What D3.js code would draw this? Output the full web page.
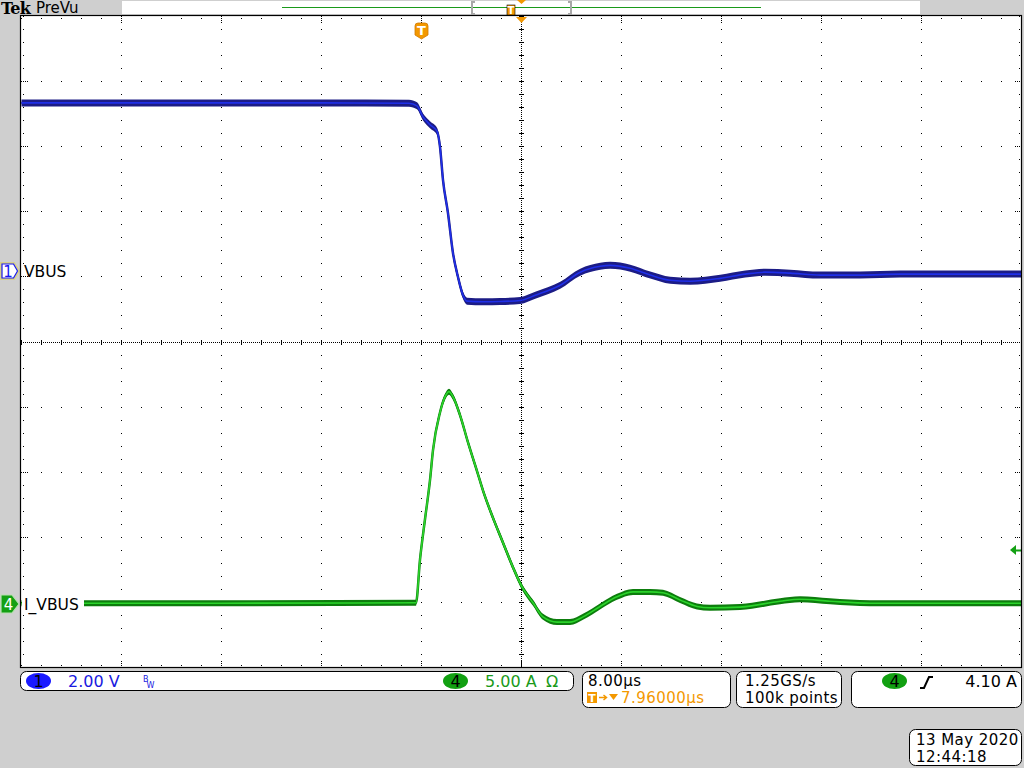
<!DOCTYPE html>
<html><head><meta charset="utf-8">
<script src="https://cdn.jsdelivr.net/npm/d3@7"></script>
<style>
html,body{margin:0;padding:0;background:#cfcfcf;}
svg{display:block;font-family:"DejaVu Sans",sans-serif;}
</style></head>
<body>
<svg id="c" width="1024" height="768"></svg>
<script>
// ---- data ----
// CH1 VBUS, time in µs relative to trigger, value in V
const timeV = [-32, -24, -16, -8, -1.0, -0.36, 0.12, 0.68, 1.24, 1.48, 1.72, 2.12, 2.52, 2.92, 3.32, 3.64, 5.0, 6.3, 7.9, 9.1, 11.1, 12.7, 14.3, 15.1, 16.7, 18.3, 19.9, 21.5, 23.9, 25.9, 27.5, 29.5, 31.9, 35.1, 38.3, 42, 47.96];
const vbus  = [5.17, 5.17, 5.17, 5.17, 5.16, 5.08, 4.74, 4.50, 4.30, 3.82, 2.80, 1.78, 0.55, -0.18, -0.74, -0.92, -0.94, -0.93, -0.90, -0.74, -0.43, -0.03, 0.15, 0.18, 0.09, -0.12, -0.28, -0.31, -0.22, -0.09, -0.03, -0.06, -0.12, -0.12, -0.09, -0.09, -0.09];
// CH4 I_VBUS, time in µs, value in A
const timeI = [-32, -16, -0.44, -0.12, 0.28, 0.68, 0.92, 1.48, 1.88, 2.2, 2.52, 3.08, 3.72, 4.44, 4.92, 5.72, 6.52, 7.32, 8.04, 8.92, 9.72, 10.84, 11.88, 12.92, 14.28, 15.64, 16.92, 18.28, 19.32, 20.68, 22.04, 23.08, 25.48, 28.68, 30.28, 32.68, 35.88, 47.96];
const ivbus = [0.05, 0.05, 0.08, 3.4, 6.5, 9.5, 11.8, 14.7, 15.9, 16.3, 15.9, 14.5, 12.4, 10.2, 8.7, 6.6, 4.7, 2.8, 1.3, 0.08, -1.0, -1.4, -1.4, -1.0, -0.2, 0.54, 0.92, 0.92, 0.85, 0.3, -0.2, -0.3, -0.25, 0.2, 0.35, 0.2, 0.05, 0.05];
// settings / readouts
const ch1Scale = 2.00, ch1Pos = 1.08;     // V/div, marker position (div)
const ch4Scale = 5.00, ch4Pos = -4.03;    // A/div
const timePerDiv = 8.00, trigDelay = 7.96; // µs
const trigLevel = 4.10;                   // A
const ch1Text = ["1", "2.00 V"];
const ch4Text = ["4", "5.00 A", "Ω"];
const horizText = ["8.00µs", "7.96000µs"];
const acqText = ["1.25GS/s", "100k points"];
const trigText = ["4", "4.10 A"];
const dateText = ["13 May 2020", "12:44:18"];
const traceLabels = ["VBUS", "I_VBUS"];

// ---- geometry ----
const L = 21, R = 1021, T = 16, B = 667;
const svg = d3.select("#c");
const x = d3.scaleLinear().domain([trigDelay - 5 * timePerDiv, trigDelay + 5 * timePerDiv]).range([L, R]);
const yDiv = d3.scaleLinear().domain([-5, 5]).range([B, T]);
const yV = d3.scaleLinear().domain([-(5 + ch1Pos) * ch1Scale, (5 - ch1Pos) * ch1Scale]).range([B, T]);
const yI = d3.scaleLinear().domain([-(5 + ch4Pos) * ch4Scale, (5 - ch4Pos) * ch4Scale]).range([B, T]);
const orange = "#f39800";

// background
svg.append("rect").attr("width", 1024).attr("height", 768).attr("fill", "#cfcfcf");
svg.append("rect").attr("x", L).attr("y", T).attr("width", R - L).attr("height", B - T).attr("fill", "#fff");

// ---- graticule ----
const g = svg.append("g").attr("fill", "#000").attr("shape-rendering", "crispEdges");
const xsMajor = d3.range(-4, 5).filter(d => d !== 0).map(d => Math.round(L + (d + 5) * 100));
const ysMajor = d3.range(-4, 5).filter(d => d !== 0).map(d => Math.round(yDiv(d)));
const xsMinor = d3.range(0, 51).map(i => Math.round(L + i * 20));
const ysMinor = d3.range(0, 51).map(i => Math.round(T + i * (B - T) / 50));
const cx = Math.round(L + 500), cy = Math.round(yDiv(0));
const dots = [];
xsMajor.forEach(xx => ysMinor.forEach(yy => dots.push([xx, yy])));
ysMajor.forEach(yy => xsMinor.forEach(xx => dots.push([xx, yy])));
for (let yy = T; yy <= B; yy += 2) dots.push([cx, yy]);
for (let xx = L; xx <= R; xx += 2) dots.push([xx, cy]);
ysMinor.forEach(yy => { for (let k = -2; k <= 2; k++) dots.push([cx + k, yy]); });
xsMinor.forEach(xx => { for (let k = -2; k <= 2; k++) dots.push([xx, cy + k]); });
xsMinor.forEach(xx => { dots.push([xx, T + 2]); dots.push([xx, B - 2]); });
[...xsMajor, cx].forEach(xx => { [4, 6].forEach(k => { dots.push([xx, T + k]); dots.push([xx, B - k]); }); });
ysMinor.forEach(yy => { dots.push([L + 2, yy]); dots.push([R - 2, yy]); });
[...ysMajor, cy].forEach(yy => { [4, 6].forEach(k => { dots.push([L + k, yy]); dots.push([R - k, yy]); }); });
g.selectAll("rect.d").data(dots).join("rect").attr("class", "d")
  .attr("x", d => d[0]).attr("y", d => d[1]).attr("width", 1).attr("height", 1);

// ---- traces ----
function trace(ts, vs, ys, band, dark, bright) {
  const pts = ts.map((t, i) => [x(t), ys(vs[i])]);
  const area = d3.area().x(d => d[0]).y0(d => d[1] + band).y1(d => d[1] - band).curve(d3.curveMonotoneX);
  const line = d3.line().x(d => d[0]).y(d => d[1]).curve(d3.curveMonotoneX);
  svg.append("path").attr("d", area(pts)).attr("fill", dark);
  svg.append("path").attr("d", line(pts)).attr("fill", "none").attr("stroke", dark).attr("stroke-width", 2.5);
  svg.append("path").attr("d", line(pts)).attr("fill", "none").attr("stroke", bright).attr("stroke-width", 1.6);
}
trace(timeV, vbus, yV, 3.5, "#1c1c86", "#1f2fe8");
trace(timeI, ivbus, yI, 3, "#0d7d0d", "#2bd42b");

// ---- trace labels ----
const y1m = Math.round(yV(0)), y4m = Math.round(yI(0));
svg.append("text").attr("x", 24).attr("y", y1m + 6).attr("font-size", 15.5).attr("fill", "#000").text(traceLabels[0]);
svg.append("rect").attr("x", 22).attr("y", y4m - 9).attr("width", 62).attr("height", 17).attr("fill", "#fff");
svg.append("text").attr("x", 24).attr("y", y4m + 6).attr("font-size", 15.5).attr("fill", "#000").text(traceLabels[1]);

// ch1 marker
svg.append("path").attr("d", `M1,${y1m - 8} H14 L19,${y1m} L14,${y1m + 8} H1 Z`).attr("fill", "#fff").attr("stroke", "#d7cf8a").attr("stroke-width", 2);
svg.append("path").attr("d", `M2,${y1m - 7} H13.5 L17.5,${y1m} L13.5,${y1m + 7} H2 Z`).attr("fill", "#fff").attr("stroke", "#1a1aee").attr("stroke-width", 1.2);
svg.append("text").attr("x", 8).attr("y", y1m + 6).attr("text-anchor", "middle").attr("font-size", 15).attr("fill", "#1a1aee").text("1");
// ch4 marker
svg.append("path").attr("d", `M1,${y4m - 9} H12 L19,${y4m} L12,${y4m + 9} H1 Z`).attr("fill", "#14a014").attr("stroke", "#b8e0b0").attr("stroke-width", 1.2);
svg.append("text").attr("x", 8.5).attr("y", y4m + 6).attr("text-anchor", "middle").attr("font-size", 15).attr("fill", "#fff").text("4");
// trigger level marker (right)
const ty = Math.round(yI(trigLevel));
svg.append("path").attr("d", `M1010,${ty} L1016,${ty - 5} L1016,${ty + 5} Z`).attr("fill", "#14a014");
svg.append("line").attr("x1", 1014).attr("x2", R).attr("y1", ty + 0.5).attr("y2", ty + 0.5).attr("stroke", "#14a014").attr("stroke-width", 2);

// border
svg.append("rect").attr("x", L - 0.5).attr("y", T - 0.5).attr("width", R - L + 1).attr("height", B - T + 1)
  .attr("fill", "none").attr("stroke", "#000").attr("stroke-width", 1.2);

// trigger markers
const tx = Math.round(x(0));
svg.append("path").attr("d", `M${cx - 5},${T + 1} H${cx + 6} L${cx + 0.5},${T + 7} Z`).attr("fill", orange);
svg.append("path").attr("d", `M${tx - 6},${T + 10} Q${tx - 6},${T + 7} ${tx - 3},${T + 7} H${tx + 4} Q${tx + 7},${T + 7} ${tx + 7},${T + 10} V${T + 19} L${tx + 0.5},${T + 23} L${tx - 6},${T + 19} Z`)
  .attr("fill", orange).attr("stroke", "#d07800").attr("stroke-width", 0.8);
svg.append("text").attr("x", tx + 0.5).attr("y", T + 19).attr("text-anchor", "middle").attr("font-size", 13).attr("font-weight", "bold").attr("fill", "#fff").text("T");

// ---- header ----
svg.append("text").attr("x", 1).attr("y", 14).attr("font-family", "'DejaVu Serif',serif").attr("font-weight", "bold").attr("font-size", 16).attr("letter-spacing", -0.8).attr("fill", "#000").text("Tek");
svg.append("text").attr("x", 36).attr("y", 13).attr("font-size", 15).attr("fill", "#000").text("PreVu");
svg.append("rect").attr("x", 122).attr("y", 1).attr("width", 798).attr("height", 13).attr("fill", "#fff");
svg.append("line").attr("x1", 282).attr("x2", 761).attr("y1", 7.5).attr("y2", 7.5).attr("stroke", "#1a9a1a").attr("stroke-width", 1);
[[472, 1], [571, -1]].forEach(([bx, s]) => {
  svg.append("path").attr("d", `M${bx + 3 * s},2 H${bx} V14 H${bx + 3 * s}`).attr("fill", "none").attr("stroke", "#a8a8a8").attr("stroke-width", 2);
});
svg.append("rect").attr("x", 507).attr("y", 5).attr("width", 8).attr("height", 10).attr("fill", orange).attr("stroke", "#000").attr("stroke-width", 0.6);
svg.append("text").attr("x", 511).attr("y", 14).attr("text-anchor", "middle").attr("font-size", 10).attr("font-weight", "bold").attr("fill", "#fff").text("T");
svg.append("path").attr("d", `M${cx - 4},0 H${cx + 5} L${cx + 0.5},4 Z`).attr("fill", orange);

// ---- status boxes ----
function box(x0, y0, w, h) {
  svg.append("rect").attr("x", x0 + 0.5).attr("y", y0 + 0.5).attr("width", w).attr("height", h).attr("rx", 6)
    .attr("fill", "#fff").attr("stroke", "#000").attr("stroke-width", 1);
}
function pill(cxp, cyp, fill, label) {
  svg.append("ellipse").attr("cx", cxp).attr("cy", cyp).attr("rx", 12.5).attr("ry", 8).attr("fill", fill);
  svg.append("text").attr("x", cxp).attr("y", cyp + 6).attr("text-anchor", "middle").attr("font-size", 16).attr("fill", "#000").text(label);
}
const fs2 = 15, ls2 = 0.45; // two-line readouts
box(20, 671, 553, 19);
pill(38.5, 681, "#1a1aff", ch1Text[0]);
svg.append("text").attr("x", 68).attr("y", 687).attr("font-size", 16).attr("fill", "#1a1ae0").text(ch1Text[1]);
svg.append("text").attr("x", 143).attr("y", 682).attr("font-size", 8).attr("fill", "#1a1ae0").text("B");
svg.append("text").attr("x", 146.5).attr("y", 688).attr("font-size", 8).attr("fill", "#1a1ae0").text("W");
pill(455.5, 681, "#12a012", ch4Text[0]);
svg.append("text").attr("x", 485).attr("y", 687).attr("font-size", 16).attr("fill", "#1a9a1a").text(ch4Text[1]);
svg.append("text").attr("x", 546).attr("y", 687).attr("font-size", 16).attr("fill", "#1a9a1a").text(ch4Text[2]);

box(582, 671, 148, 36);
svg.append("text").attr("x", 588).attr("y", 686).attr("font-size", fs2).attr("letter-spacing", ls2).attr("fill", "#000").text(horizText[0]);
svg.append("rect").attr("x", 587).attr("y", 692).attr("width", 10).attr("height", 11).attr("fill", orange);
svg.append("text").attr("x", 592).attr("y", 702).attr("text-anchor", "middle").attr("font-size", 11).attr("font-weight", "bold").attr("fill", "#fff").text("T");
svg.append("path").attr("d", "M599,697.5 H606 M603.5,695 L606.5,697.5 L603.5,700").attr("fill", "none").attr("stroke", orange).attr("stroke-width", 1.5);
svg.append("path").attr("d", "M609,694 H618 L613.5,700 Z").attr("fill", orange);
svg.append("text").attr("x", 621).attr("y", 703).attr("font-size", fs2).attr("letter-spacing", ls2).attr("fill", orange).text(horizText[1]);

box(736, 671, 105, 36);
svg.append("text").attr("x", 745).attr("y", 686).attr("font-size", fs2).attr("letter-spacing", ls2).attr("fill", "#000").text(acqText[0]);
svg.append("text").attr("x", 745).attr("y", 703).attr("font-size", fs2).attr("letter-spacing", ls2).attr("fill", "#000").text(acqText[1]);

box(851, 671, 170, 36);
pill(894.5, 681, "#12a012", trigText[0]);
svg.append("path").attr("d", "M920,688 H924 L929,677 H933").attr("fill", "none").attr("stroke", "#000").attr("stroke-width", 2);
svg.append("text").attr("x", 1017).attr("y", 687).attr("text-anchor", "end").attr("font-size", 16).attr("fill", "#000").text(trigText[1]);

box(909, 729, 112, 36);
svg.append("text").attr("x", 916).attr("y", 745).attr("font-size", fs2).attr("letter-spacing", ls2).attr("fill", "#000").text(dateText[0]);
svg.append("text").attr("x", 916).attr("y", 762).attr("font-size", fs2).attr("letter-spacing", ls2).attr("fill", "#000").text(dateText[1]);
</script>
</body></html>
